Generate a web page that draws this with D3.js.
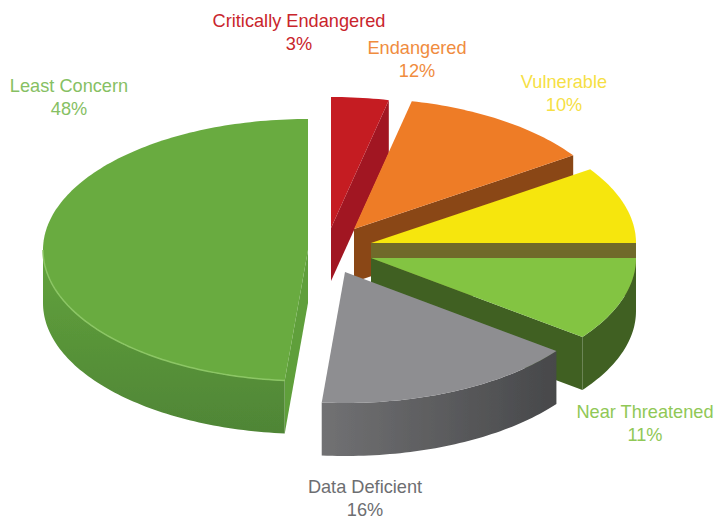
<!DOCTYPE html>
<html>
<head>
<meta charset="utf-8">
<script src="https://cdn.jsdelivr.net/npm/d3@7"></script>
<style>
html, body { margin: 0; padding: 0; background: #fff; }
svg { display: block; }
text { font-family: "Liberation Sans", sans-serif; font-size: 18.2px; text-anchor: middle; }
</style>
</head>
<body>
<script>
// data
let categories = ["Critically Endangered", "Endangered", "Vulnerable", "Near Threatened", "Data Deficient", "Least Concern"]
let percentLabels = [3, 12, 10, 11, 16, 48]
// the drawing is not quite to scale, these are the sweeps measured on the slices
let sweeps = [3.5, 12, 9.5, 10.3, 16.1, 48.6]

// styles
let topColors = ["#c51a24", "#ee7b27", "#f6e60e", "#83c443", "#8e8e91", "#69ab41"]
let wallColors = ["#a11522", "#8a4716", "#6f6a2a", "#3f6023", "#4f5053", "#568f38"]
let labelColors = ["#c9252c", "#f08c3e", "#f6df45", "#90c856", "#6d6e71", "#86c063"]

// layout: how far each slice is pulled from the pie centre, and where labels go
let w = 715
let h = 520
let pullX = [23, 46, 63, 63, 37, 0]
let pullY = [-22, -21, -7, 8, 22, 0]
let labelX = [299, 417, 564, 645, 365, 69]
let labelY = [27, 54, 88, 418, 493, 92]
let labelGap = 23
let depth = 53

let svg = d3.select("body").append("svg").attr("width", w).attr("height", h)

let defs = svg.append("defs")
defs.append("filter").attr("id", "soft")
	.append("feGaussianBlur").attr("stdDeviation", 0.5)

let grayWall = defs.append("linearGradient").attr("id", "wall4")
grayWall.append("stop").attr("offset", "0%").attr("stop-color", "#717173")
grayWall.append("stop").attr("offset", "100%").attr("stop-color", "#47484a")

let greenWall = defs.append("linearGradient").attr("id", "wall5")
	.attr("x1", 0).attr("x2", 0).attr("y1", 0).attr("y2", 1)
greenWall.append("stop").attr("offset", "0%").attr("stop-color", "#62a33c")
greenWall.append("stop").attr("offset", "100%").attr("stop-color", "#4f8536")

// projection of the unit pie onto the page
let xScale = d3.scaleLinear().domain([-1, 1]).range([308 - 265, 308 + 265])
let yScale = d3.scaleLinear().domain([-1, 1]).range([250 + 131, 250 - 131])

let pie = d3.pie().sort(null)
let slices = pie(sweeps)

let line = d3.line().x(d => d[0]).y(d => d[1])

// point on the rim of slice i at angle a, dz pixels down
let rim = (i, a, dz) => [xScale(Math.sin(a)) + pullX[i], yScale(Math.cos(a)) + pullY[i] + dz]
let hub = (i, dz) => [xScale(0) + pullX[i], yScale(0) + pullY[i] + dz]

let arcPoints = (i, a0, a1, dz) => {
	let n = Math.max(2, Math.ceil((a1 - a0) / 0.02))
	return d3.range(n + 1).map(k => rim(i, a0 + (a1 - a0) * k / n, dz))
}

let radialWall = (i, a) => [hub(i, 0), rim(i, a, 0), rim(i, a, depth), hub(i, depth)]

let chart = svg.append("g").attr("filter", "url(#soft)")

slices.forEach((s, i) => {
	let g = chart.append("g")
	let fill = i == 4 ? "url(#wall4)" : i == 5 ? "url(#wall5)" : wallColors[i]

	// flat cut walls that face the viewer
	if (s.endAngle < Math.PI) {
		g.append("path").attr("d", line(radialWall(i, s.endAngle)) + "Z").attr("fill", wallColors[i])
	}
	if (s.startAngle > Math.PI) {
		g.append("path").attr("d", line(radialWall(i, s.startAngle)) + "Z").attr("fill", "#5f9f3b")
	}

	// curved outer wall, only the front half of the rim shows
	let a0 = Math.max(s.startAngle, Math.PI / 2)
	let a1 = Math.min(s.endAngle, Math.PI * 1.5)
	if (a1 > a0) {
		let pts = arcPoints(i, a0, a1, 0).concat(arcPoints(i, a0, a1, depth).reverse())
		g.append("path").attr("d", line(pts) + "Z").attr("fill", fill)
	}

	// top face
	let face = [hub(i, 0)].concat(arcPoints(i, s.startAngle, s.endAngle, 0))
	g.append("path").attr("d", line(face) + "Z").attr("fill", topColors[i])

	// light edge where the top of the big slice meets its wall
	if (i == 5) {
		g.append("path")
			.attr("d", line(arcPoints(i, s.startAngle, Math.PI * 1.5, 0)))
			.attr("fill", "none")
			.attr("stroke", "#8cc665")
			.attr("stroke-width", 1.5)
	}
})

categories.forEach((c, i) => {
	let t = svg.append("text").attr("fill", labelColors[i])
	t.append("tspan").attr("x", labelX[i]).attr("y", labelY[i]).text(c)
	t.append("tspan").attr("x", labelX[i]).attr("y", labelY[i] + labelGap).text(percentLabels[i] + "%")
})
</script>
</body>
</html>
